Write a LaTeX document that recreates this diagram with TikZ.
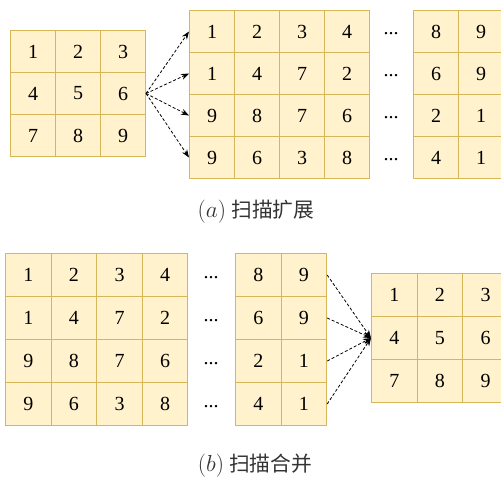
\documentclass[tikz,border=0pt]{standalone}
\usepackage{fontspec}
\setmainfont{Liberation Serif}
\newfontfamily\cjk{Noto Sans CJK SC}
\usetikzlibrary{arrows.meta}
\definecolor{cellfill}{HTML}{FFF2CC}
\definecolor{celldraw}{HTML}{D6B656}
\definecolor{captcol}{HTML}{333333}
\newcommand{\capmath}[1]{\scalebox{1.12}{$#1$}}
\tikzset{
  cellA/.style={draw=celldraw, fill=cellfill, line width=1pt, minimum width=45pt, minimum height=42pt, inner sep=0pt, anchor=north west, font=\fontsize{20}{24}\selectfont},
  cellB/.style={cellA, minimum width=45.6pt, minimum height=43pt},
  dotsnode/.style={inner sep=0pt, font=\fontsize{20}{24}\selectfont},
  conn/.style={densely dashed, line width=0.8pt, -{Stealth[length=8pt,width=6pt]}},
  captext/.style={text=captcol, font=\fontsize{20.74}{25}\selectfont}
}
\begin{document}
\begin{tikzpicture}[x=1pt,y=-1pt]
\useasboundingbox (0,0) rectangle (501,480);
\clip (0,0) rectangle (501,480);
% (a) source 3x3
\foreach \r/\vals in {1/{1,2,3},2/{4,5,6},3/{7,8,9}}
  \foreach \v [count=\c] in \vals
    \node[cellA] (A-\r-\c) at ({10+(\c-1)*45},{30+(\r-1)*42}) {\v};
% (a) expanded block 1
\foreach \r/\vals in {1/{1,2,3,4},2/{1,4,7,2},3/{9,8,7,6},4/{9,6,3,8}}
  \foreach \v [count=\c] in \vals
    \node[cellA] (B-\r-\c) at ({189+(\c-1)*45},{10+(\r-1)*42}) {\v};
% (a) expanded block 2
\foreach \r/\vals in {1/{8,9},2/{6,9},3/{2,1},4/{4,1}}
  \foreach \v [count=\c] in \vals
    \node[cellA] (BB-\r-\c) at ({413+(\c-1)*45},{10+(\r-1)*42}) {\v};
\foreach \r in {1,2,3,4}
  \node[dotsnode] (Bd-\r) at (391,{10+(\r-1)*42+24}) {...};
\coordinate (Asrc) at (A-2-3.east);
\foreach \r in {1,2,3,4}
  \draw[conn] (Asrc) -- (B-\r-1.west);
\node[captext] (capa) at (256,212) {\capmath{(a)}\ \cjk 扫描扩展};
% (b) block 1
\foreach \r/\vals in {1/{1,2,3,4},2/{1,4,7,2},3/{9,8,7,6},4/{9,6,3,8}}
  \foreach \v [count=\c] in \vals
    \node[cellB] (C-\r-\c) at ({5+(\c-1)*45.6},{253+(\r-1)*43}) {\v};
\foreach \r/\vals in {1/{8,9},2/{6,9},3/{2,1},4/{4,1}}
  \foreach \v [count=\c] in \vals
    \node[cellB] (CC-\r-\c) at ({235+(\c-1)*45.6},{253+(\r-1)*43}) {\v};
\foreach \r in {1,2,3,4}
  \node[dotsnode] (Cd-\r) at (211,{253+(\r-1)*43+25}) {...};
% (b) merged 3x3
\foreach \r/\vals in {1/{1,2,3},2/{4,5,6},3/{7,8,9}}
  \foreach \v [count=\c] in \vals
    \node[cellB] (D-\r-\c) at ({371+(\c-1)*45.6},{273+(\r-1)*43}) {\v};
\foreach \r in {1,2,3,4}
  \draw[conn] (CC-\r-2.east) -- (D-2-1.west);
\node[captext] (capb) at (255,466) {\capmath{(b)}\ \cjk 扫描合并};
\end{tikzpicture}
\end{document}
